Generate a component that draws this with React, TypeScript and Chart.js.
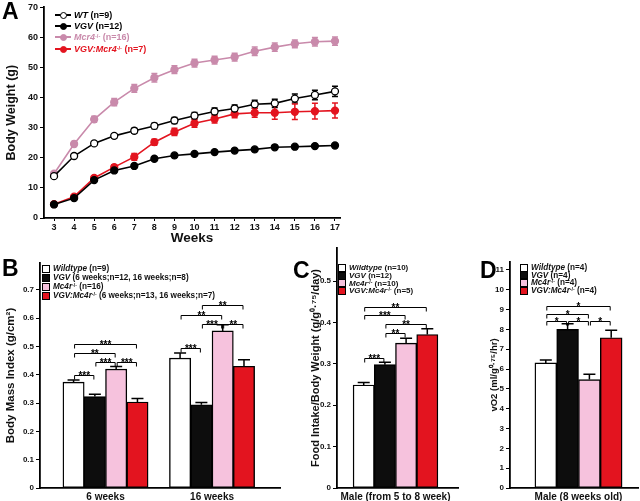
import React, { useEffect, useRef } from "react";
import { Chart, registerables } from "chart.js";
Chart.register(...registerables);

const FONT = "'Liberation Sans', Arial, Helvetica, sans-serif";
const PINK_LINE = "#c98aab";
const RED = "#e3141f";
const PINK_BAR = "#f6c2dd";

// ---------- Panel A: body weight ----------
const weeks = [3, 4, 5, 6, 7, 8, 9, 10, 11, 12, 13, 14, 15, 16, 17];
const wtWeight = [13.9, 20.6, 24.8, 27.3, 29.0, 30.6, 32.4, 34.0, 35.4, 36.4, 37.8, 38.1, 39.7, 40.9, 42.1];
const wtErr = [0.5, 0.5, 0.6, 0.7, 0.8, 0.9, 1.0, 1.1, 1.2, 1.2, 1.3, 1.4, 1.5, 1.6, 1.7];
const vgvWeight = [4.5, 6.6, 12.6, 15.8, 17.3, 19.7, 20.8, 21.3, 21.9, 22.4, 22.8, 23.5, 23.7, 23.9, 24.1];
const vgvErr = [0.3, 0.4, 0.4, 0.4, 0.5, 0.4, 0.4, 0.4, 0.4, 0.4, 0.4, 0.4, 0.4, 0.4, 0.4];
const mc4rWeight = [14.7, 24.6, 32.8, 38.5, 43.1, 46.6, 49.3, 51.5, 52.5, 53.5, 55.4, 56.8, 57.9, 58.6, 58.8];
const mc4rErr = [0.6, 0.8, 1.0, 1.2, 1.3, 1.4, 1.3, 1.3, 1.3, 1.3, 1.4, 1.4, 1.3, 1.4, 1.4];
const dkoWeight = [4.6, 7.1, 13.3, 16.9, 20.3, 25.2, 28.6, 31.5, 32.9, 34.6, 35.0, 35.0, 35.3, 35.5, 35.7];
const dkoErr = [0.4, 0.6, 0.7, 0.8, 1.1, 1.0, 1.2, 1.3, 1.3, 1.3, 1.5, 2.2, 2.6, 2.6, 2.5];
const aYTicks = [0, 10, 20, 30, 40, 50, 60, 70];

const aNames = ["WT", "VGV", "Mcr4", "VGV:Mcr4"];
const aSup = ["", "", "-/-", "-/-"];
const aRest = [" (n=9)", " (n=12)", " (n=16)", " (n=7)"];

// ---------- Panel B: BMI ----------
const bmiGroups = ["6 weeks", "16 weeks"];
const bmiWT = [0.374, 0.459];
const bmiWTErr = [0.008, 0.018];
const bmiVGV = [0.323, 0.294];
const bmiVGVErr = [0.008, 0.008];
const bmiMc4r = [0.42, 0.555];
const bmiMc4rErr = [0.009, 0.022];
const bmiDKO = [0.304, 0.43];
const bmiDKOErr = [0.012, 0.023];
// [group, from series, to series, level, label]
const bmiSig: [number, number, number, number, string][] = [
  [0, 0, 1, 0.4, "***"],
  [0, 0, 3, 0.51, "***"],
  [0, 0, 2, 0.477, "**"],
  [0, 1, 2, 0.444, "***"],
  [0, 2, 3, 0.444, "***"],
  [1, 0, 1, 0.494, "***"],
  [1, 0, 2, 0.612, "**"],
  [1, 1, 2, 0.58, "***"],
  [1, 2, 3, 0.58, "**"],
  [1, 1, 3, 0.648, "**"],
];
const bNames = ["Wildtype", "VGV", "Mc4r", "VGV:Mc4r"];
const bRest = [" (n=9)", " (6 weeks;n=12, 16 weeks;n=8)", " (n=16)", " (6 weeks;n=13, 16 weeks;n=7)"];

// ---------- Panel C: food intake ----------
const foodGroup = ["Male (from 5 to 8 week)"];
const foodVals = [0.249, 0.298, 0.35, 0.371];
const foodErr = [0.006, 0.006, 0.012, 0.014];
const foodSig: [number, number, number, number, string][] = [
  [0, 0, 1, 0.314, "***"],
  [0, 1, 2, 0.375, "**"],
  [0, 1, 3, 0.396, "**"],
  [0, 0, 2, 0.417, "***"],
  [0, 0, 3, 0.438, "**"],
];
const cRest = [" (n=10)", " (n=12)", " (n=10)", " (n=5)"];

// ---------- Panel D: VO2 ----------
const vo2Group = ["Male (8 weeks old)"];
const vo2Vals = [6.31, 8.0, 5.47, 7.58];
const vo2Err = [0.15, 0.28, 0.27, 0.38];
const vo2Sig: [number, number, number, number, string][] = [
  [0, 0, 1, 8.42, "*"],
  [0, 1, 2, 8.42, "*"],
  [0, 2, 3, 8.42, "*"],
  [0, 0, 2, 8.77, "*"],
  [0, 0, 3, 9.18, "*"],
];
const dRest = [" (n=4)", " (n=4)", " (n=4)", " (n=4)"];

const barFills = ["#ffffff", "#0d0d0d", PINK_BAR, RED];
const supNames = ["", "", "-/-", "-/-"];

// ---------- plugins ----------
function lineErrPlugin(errs: number[][]) {
  return {
    id: "lineErr",
    beforeDatasetsDraw(chart: any) {
      const ctx = chart.ctx;
      const ys = chart.scales.y;
      errs.forEach((e, di) => {
        const meta = chart.getDatasetMeta(di);
        const color = chart.data.datasets[di].borderColor;
        ctx.save();
        ctx.strokeStyle = color;
        ctx.lineWidth = 1.5;
        meta.data.forEach((pt: any, i: number) => {
          const v = chart.data.datasets[di].data[i].y;
          const y1 = ys.getPixelForValue(v + e[i]);
          const y2 = ys.getPixelForValue(v - e[i]);
          ctx.beginPath();
          ctx.moveTo(pt.x, y1);
          ctx.lineTo(pt.x, y2);
          ctx.moveTo(pt.x - 3, y1);
          ctx.lineTo(pt.x + 3, y1);
          ctx.moveTo(pt.x - 3, y2);
          ctx.lineTo(pt.x + 3, y2);
          ctx.stroke();
        });
        ctx.restore();
      });
    },
  };
}

function barExtrasPlugin(errs: number[][], sig: [number, number, number, number, string][]) {
  return {
    id: "barExtras",
    afterDatasetsDraw(chart: any) {
      const ctx = chart.ctx;
      const ys = chart.scales.y;
      ctx.save();
      ctx.strokeStyle = "#000";
      ctx.lineWidth = 1.5;
      errs.forEach((e, di) => {
        const meta = chart.getDatasetMeta(di);
        meta.data.forEach((bar: any, i: number) => {
          const v = chart.data.datasets[di].data[i].y;
          const yTop = ys.getPixelForValue(v + e[i]);
          ctx.beginPath();
          ctx.moveTo(bar.x, bar.y);
          ctx.lineTo(bar.x, yTop);
          ctx.moveTo(bar.x - 6, yTop);
          ctx.lineTo(bar.x + 6, yTop);
          ctx.stroke();
        });
      });
      ctx.lineWidth = 1;
      ctx.fillStyle = "#000";
      ctx.font = `bold 10px ${FONT}`;
      ctx.textAlign = "center";
      ctx.textBaseline = "alphabetic";
      sig.forEach(([g, a, b, level, label]) => {
        const x1 = chart.getDatasetMeta(a).data[g].x;
        const x2 = chart.getDatasetMeta(b).data[g].x;
        const y = Math.round(ys.getPixelForValue(level)) + 0.5;
        ctx.beginPath();
        ctx.moveTo(x1 + 1, y + 4);
        ctx.lineTo(x1 + 1, y);
        ctx.lineTo(x2 - 1, y);
        ctx.lineTo(x2 - 1, y + 4);
        ctx.stroke();
        ctx.fillText(label, (x1 + x2) / 2, y + 3);
      });
      ctx.restore();
    },
  };
}

function axisCommon(fontSize: number, tickLen = 4, pad = 2) {
  return {
    grid: { display: true, drawOnChartArea: false, drawTicks: true, tickLength: tickLen, color: "#000", lineWidth: 1 },
    border: { display: true, color: "#000", width: 1.8 },
    ticks: { color: "#111", font: { family: FONT, size: fontSize, weight: "bold" as const }, padding: pad },
  };
}

function makeA() {
  const series = [wtWeight, vgvWeight, mc4rWeight, dkoWeight];
  const colors = ["#000", "#000", PINK_LINE, RED];
  const fills = ["#fff", "#000", PINK_LINE, RED];
  return {
    type: "line",
    data: {
      datasets: series.map((s, i) => ({
        data: weeks.map((w, j) => ({ x: w, y: s[j] })),
        borderColor: colors[i],
        backgroundColor: fills[i],
        pointBackgroundColor: fills[i],
        pointBorderColor: colors[i],
        pointBorderWidth: 1.3,
        pointRadius: 3.5,
        borderWidth: 1.6,
        tension: 0,
      })),
    },
    options: {
      responsive: false,
      animation: false,
      devicePixelRatio: 1,
      layout: { padding: { top: 5, right: 10, left: 0, bottom: 4 } },
      plugins: { legend: { display: false }, tooltip: { enabled: false } },
      scales: {
        x: {
          type: "linear",
          min: 2.5,
          max: 17.25,
          offset: false,
          ...axisCommon(9, 3, 1),
          afterBuildTicks: (s: any) => { s.ticks = weeks.map((v) => ({ value: v })); },
          afterFit: (s: any) => { s.height = 28; },
          title: { display: true, text: "Weeks", color: "#111", font: { family: FONT, size: 13.5, weight: "bold" }, padding: { top: 0, bottom: 0 } },
        },
        y: {
          min: 0,
          max: 70,
          ...axisCommon(9),
          afterBuildTicks: (s: any) => { s.ticks = aYTicks.map((v) => ({ value: v })); },
          afterFit: (s: any) => { s.width = 44; },
          title: { display: true, text: "Body Weight (g)", color: "#111", font: { family: FONT, size: 12.5, weight: "bold" }, padding: { top: 4 } },
        },
      },
    },
    plugins: [lineErrPlugin([wtErr, vgvErr, mc4rErr, dkoErr])],
  };
}

function makeBar(opts: {
  series: number[][];
  errs: number[][];
  sig: [number, number, number, number, string][];
  labels: string[];
  xmin: number;
  xmax: number;
  ymax: number;
  yTicks: number[];
  thickness: number;
  yWidth: number;
  xHeight: number;
  padTop: number;
  padRight: number;
  title: string;
  titleSize: number;
  titlePad: number;
}) {
  return {
    type: "bar",
    data: {
      datasets: opts.series.map((s, i) => ({
        data: s.map((v, j) => ({ x: j, y: v })),
        backgroundColor: barFills[i],
        borderColor: "#000",
        borderWidth: 1.4,
        borderSkipped: false,
        barThickness: opts.thickness,
        grouped: true,
      })),
    },
    options: {
      responsive: false,
      animation: false,
      devicePixelRatio: 1,
      layout: { padding: { top: opts.padTop, right: opts.padRight, left: 0, bottom: 0 } },
      plugins: { legend: { display: false }, tooltip: { enabled: false } },
      scales: {
        x: {
          type: "linear",
          min: opts.xmin,
          max: opts.xmax,
          offset: false,
          grid: { display: false, drawTicks: false, offset: false },
          border: { display: true, color: "#000", width: 1.8 },
          ticks: {
            color: "#111",
            font: { family: FONT, size: 10, weight: "bold" },
            padding: 3,
            callback: (v: number) => opts.labels[v] ?? "",
          },
          afterBuildTicks: (s: any) => { s.ticks = opts.labels.map((_, i) => ({ value: i })); },
          afterFit: (s: any) => { s.height = opts.xHeight; },
        },
        y: {
          min: 0,
          max: opts.ymax,
          ...axisCommon(8),
          afterBuildTicks: (s: any) => { s.ticks = opts.yTicks.map((v) => ({ value: v })); },
          afterFit: (s: any) => { s.width = opts.yWidth; },
          title: { display: true, text: opts.title, color: "#111", font: { family: FONT, size: opts.titleSize, weight: "bold" }, padding: { top: opts.titlePad } },
        },
      },
    },
    plugins: [barExtrasPlugin(opts.errs, opts.sig)],
  };
}

function ChartBox({ x, y, w, h, make }: { x: number; y: number; w: number; h: number; make: () => any }) {
  const ref = useRef<HTMLCanvasElement>(null);
  useEffect(() => {
    const chart = new Chart(ref.current as HTMLCanvasElement, make());
    return () => chart.destroy();
  }, []);
  return (
    <canvas
      ref={ref}
      width={w}
      height={h}
      style={{ position: "absolute", left: x, top: y, width: w, height: h }}
    />
  );
}

function LegendText({ name, sup, rest, color }: { name: string; sup: string; rest: string; color: string }) {
  return (
    <span style={{ color, whiteSpace: "nowrap" }}>
      <i>{name}</i>
      {sup ? <sup style={{ fontSize: "0.62em", verticalAlign: "0.45em", lineHeight: 0 }}>{sup}</sup> : null}
      {rest}
    </span>
  );
}

function BoxLegend({ x, y, gap, size, rests }: { x: number; y: number; gap: number; size: number; rests: string[] }) {
  return (
    <div style={{ position: "absolute", left: x, top: y, fontFamily: FONT, fontWeight: "bold", fontSize: size }}>
      {bNames.map((n, i) => (
        <div key={i} style={{ position: "absolute", left: 0, top: i * gap, height: gap, display: "flex", alignItems: "center" }}>
          <span style={{ display: "inline-block", width: 6, height: 6, border: "1px solid #000", background: barFills[i], marginRight: 3 }} />
          <LegendText name={n} sup={supNames[i]} rest={rests[i]} color="#111" />
        </div>
      ))}
    </div>
  );
}

function LineLegend() {
  const colors = ["#000", "#000", PINK_LINE, RED];
  const fills = ["#fff", "#000", PINK_LINE, RED];
  const rows = [15, 26, 37, 49];
  return (
    <div style={{ position: "absolute", left: 55, top: 0, fontFamily: FONT, fontWeight: "bold", fontSize: 9 }}>
      {aNames.map((n, i) => (
        <div key={i} style={{ position: "absolute", left: 0, top: rows[i] - 6, height: 12, display: "flex", alignItems: "center" }}>
          <span style={{ position: "relative", display: "inline-block", width: 16, height: 12, marginRight: 3 }}>
            <span style={{ position: "absolute", left: 0, top: 5, width: 16, height: 1.6, background: colors[i] }} />
            <span style={{ position: "absolute", left: 4.5, top: 2.5, width: 5, height: 5, borderRadius: "50%", border: `1.3px solid ${colors[i]}`, background: fills[i] }} />
          </span>
          <LegendText name={n} sup={aSup[i]} rest={aRest[i]} color={colors[i]} />
        </div>
      ))}
    </div>
  );
}

const letterStyle: React.CSSProperties = { position: "absolute", fontFamily: FONT, fontWeight: "bold", fontSize: 23, lineHeight: "23px", color: "#000" };

export default function App() {
  return (
    <div style={{ position: "fixed", left: 0, top: 0, width: 640, height: 501, background: "#fff", overflow: "hidden" }}>
      <ChartBox x={0} y={0} w={350} h={250} make={makeA} />
      <ChartBox
        x={0}
        y={255}
        w={290}
        h={246}
        make={() =>
          makeBar({
            series: [bmiWT, bmiVGV, bmiMc4r, bmiDKO],
            errs: [bmiWTErr, bmiVGVErr, bmiMc4rErr, bmiDKOErr],
            sig: bmiSig,
            labels: bmiGroups,
            xmin: -0.615,
            xmax: 1.638,
            ymax: 0.795,
            yTicks: [0, 0.1, 0.2, 0.3, 0.4, 0.5, 0.6, 0.7],
            thickness: 21.3,
            yWidth: 40,
            xHeight: 13,
            padTop: 8,
            padRight: 10,
            title: "Body Mass Index (g/cm²)",
            titleSize: 11.5,
            titlePad: 4,
          })
        }
      />
      <ChartBox
        x={300}
        y={240}
        w={165}
        h={261}
        make={() =>
          makeBar({
            series: [[foodVals[0]], [foodVals[1]], [foodVals[2]], [foodVals[3]]],
            errs: [[foodErr[0]], [foodErr[1]], [foodErr[2]], [foodErr[3]]],
            sig: foodSig,
            labels: foodGroup,
            xmin: -0.585,
            xmax: 0.625,
            ymax: 0.58,
            yTicks: [0, 0.1, 0.2, 0.3, 0.4, 0.5],
            thickness: 21.2,
            yWidth: 37,
            xHeight: 13,
            padTop: 8,
            padRight: 7,
            title: "Food Intake/Body Weight (g/g⁰·⁷⁵/day)",
            titleSize: 11,
            titlePad: 9,
          })
        }
      />
      <ChartBox
        x={480}
        y={250}
        w={160}
        h={251}
        make={() =>
          makeBar({
            series: [[vo2Vals[0]], [vo2Vals[1]], [vo2Vals[2]], [vo2Vals[3]]],
            errs: [[vo2Err[0]], [vo2Err[1]], [vo2Err[2]], [vo2Err[3]]],
            sig: vo2Sig,
            labels: vo2Group,
            xmin: -0.685,
            xmax: 0.595,
            ymax: 11.4,
            yTicks: [0, 1, 2, 3, 4, 5, 6, 7, 8, 9, 10, 11],
            thickness: 21.8,
            yWidth: 30,
            xHeight: 13,
            padTop: 12,
            padRight: 2,
            title: "vO2 (ml/g⁰·⁷⁵/hr)",
            titleSize: 9.5,
            titlePad: 9,
          })
        }
      />
      <LineLegend />
      <BoxLegend x={42} y={264} gap={9} size={8.2} rests={bRest} />
      <BoxLegend x={338} y={264} gap={7.7} size={8} rests={cRest} />
      <BoxLegend x={520} y={264} gap={7.6} size={8.2} rests={dRest} />
      <div style={{ ...letterStyle, left: 2, top: 0 }}>A</div>
      <div style={{ ...letterStyle, left: 2, top: 257 }}>B</div>
      <div style={{ ...letterStyle, left: 293, top: 259 }}>C</div>
      <div style={{ ...letterStyle, left: 480, top: 259 }}>D</div>
    </div>
  );
}
